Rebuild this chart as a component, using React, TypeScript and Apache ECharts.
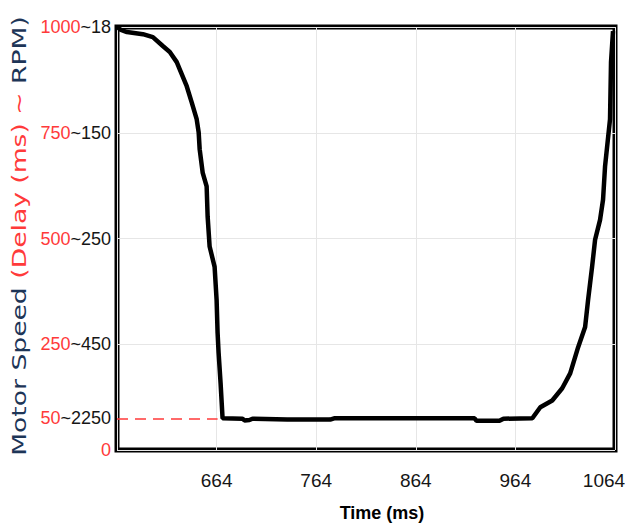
import React, { useEffect, useRef } from "react";
import * as echarts from "echarts";

// Data
const timeMs = [
  564, 568, 574, 590, 600, 610, 617, 624, 627, 634, 639, 644, 646, 647, 650, 654, 655, 657, 662, 664, 665, 666, 668, 670,
  690, 692, 697, 700, 735, 778, 782, 923, 925, 948, 952, 981,
  989, 1001, 1011, 1019, 1027, 1034, 1037, 1041, 1044, 1049, 1052, 1054, 1059, 1060, 1062,
];
const delayMs = [
  1000, 993, 988, 983, 976, 955, 941, 917, 900, 860, 822, 782, 751, 711, 656, 623, 552, 481, 433, 355, 277, 230, 158, 75,
  74, 70, 71, 74, 72, 72, 75, 75, 69, 69, 74, 75,
  101, 117, 146, 181, 243, 291, 355, 433, 497, 544, 592, 670, 782, 917, 990,
];

const xTicks = [664, 764, 864, 964, 1064];
const yTickValues = [0, 75, 250, 500, 750, 1000];
const yTickDelay = ["0", "50", "250", "500", "750", "1000"];
const yTickRpm = ["", "2250", "450", "250", "150", "18"];
const refLevel = 75;
const refEnd = 665;

const X_MIN = 564;
const X_MAX = 1064;

const RED = "#ff3a3a";
const DARK = "#161616";
const NAVY = "#1d3557";
const FONT = "'Liberation Sans', Arial, sans-serif";

export default function App() {
  const ref = useRef<HTMLDivElement>(null);

  useEffect(() => {
    document.body.style.margin = "0";
    document.body.style.overflow = "hidden";
    if (!ref.current) return;
    const chart = echarts.init(ref.current, undefined, { renderer: "svg" });
    const data = timeMs.map((t, i) => [t, delayMs[i]]);

    chart.setOption({
      animation: false,
      backgroundColor: "#ffffff",
      grid: {
        left: 117,
        right: 10,
        top: 27,
        bottom: 78,
        outerBoundsMode: "none",
        containLabel: false,
        show: true,
        borderColor: "#000",
        borderWidth: 5,
        backgroundColor: "transparent",
      },
      xAxis: {
        type: "value",
        min: X_MIN,
        max: X_MAX,
        interval: 100,
        axisLine: { show: false },
        axisTick: { show: false },
        splitLine: { show: true, lineStyle: { color: "#e6e6e6", width: 1 } },
        axisLabel: {
          margin: 21,
          fontFamily: FONT,
          fontSize: 19,
          color: DARK,
          showMinLabel: false,
          formatter: (v: number) => {
            if (!xTicks.includes(v)) return "";
            return v === X_MAX ? `{m|${v}}` : String(v);
          },
          rich: {
            m: { fontFamily: FONT, fontSize: 19, color: DARK, padding: [0, 22, 0, 0] },
          },
        },
        name: "Time (ms)",
        nameLocation: "middle",
        nameGap: 54,
        nameTextStyle: {
          fontFamily: FONT,
          fontWeight: "bold",
          fontSize: 18,
          color: "#000",
          padding: [0, 0, 0, 32],
        },
      },
      yAxis: [
        {
          type: "value",
          min: 0,
          max: 1000,
          interval: 250,
          axisLine: { show: false },
          axisTick: { show: false },
          axisLabel: { show: false },
          splitLine: { show: true, lineStyle: { color: "#e6e6e6", width: 1 } },
        },
        {
          type: "value",
          position: "left",
          min: 0,
          max: 1000,
          interval: 25,
          axisLine: { show: false },
          axisTick: { show: false },
          splitLine: { show: false },
          axisLabel: {
            margin: 6,
            fontFamily: FONT,
            fontSize: 18,
            formatter: (v: number) => {
              const i = yTickValues.indexOf(v);
              if (i < 0) return "";
              const rpm = yTickRpm[i];
              return rpm ? `{r|${yTickDelay[i]}}{k|~${rpm}}` : `{r|${yTickDelay[i]}}`;
            },
            rich: {
              r: { color: RED, fontFamily: FONT, fontSize: 18 },
              k: { color: DARK, fontFamily: FONT, fontSize: 18 },
            },
          },
        },
      ],
      graphic: [
        {
          type: "text",
          x: 19,
          y: 236,
          rotation: Math.PI / 2,
          scaleX: 1.33,
          scaleY: 1,
          style: {
            text: "{a|Motor Speed }{b|(Delay (ms) ~}{a| RPM)}",
            align: "center",
            verticalAlign: "middle",
            fontFamily: "'DejaVu Sans', sans-serif",
            fontSize: 20,
            rich: {
              a: { fill: NAVY, fontFamily: "'DejaVu Sans', sans-serif", fontSize: 20 },
              b: { fill: RED, fontFamily: "'DejaVu Sans', sans-serif", fontSize: 20 },
            },
          },
        },
      ],
      series: [
        {
          type: "line",
          xAxisIndex: 0,
          yAxisIndex: 0,
          data,
          showSymbol: false,
          symbol: "none",
          smooth: false,
          lineStyle: { color: "#000", width: 4.5 },
          z: 5,
          markLine: {
            silent: true,
            symbol: "none",
            label: { show: false },
            lineStyle: { color: RED, type: [11, 7], width: 1.5 },
            data: [
              [
                { coord: [X_MIN, refLevel] },
                { coord: [refEnd, refLevel] },
              ],
            ],
          },
        },
      ],
    });

    return () => chart.dispose();
  }, []);

  return <div ref={ref} style={{ width: 625, height: 528, background: "#fff" }} />;
}
